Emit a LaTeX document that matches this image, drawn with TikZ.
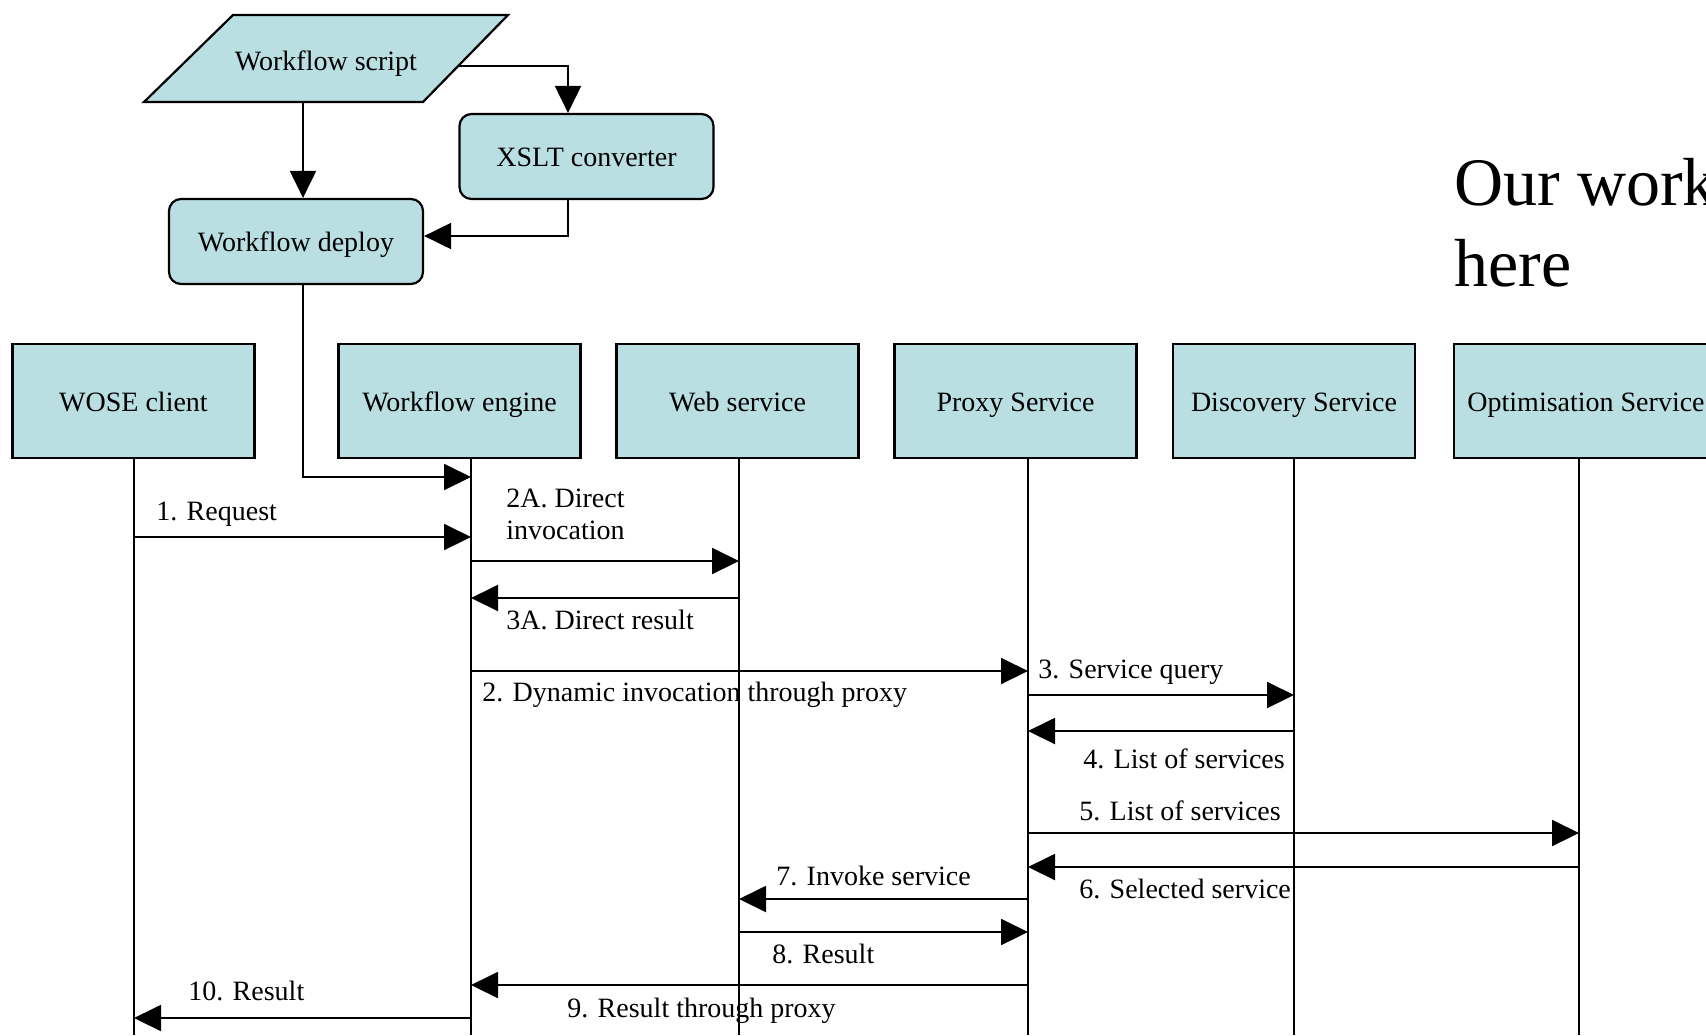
\documentclass[tikz,border=0pt]{standalone}
\usepackage{fontspec}
\setmainfont{Liberation Serif}
\usetikzlibrary{arrows.meta}
\definecolor{boxfill}{RGB}{186,223,226}
\begin{document}
\begin{tikzpicture}[x=0.5pt,y=-0.5pt,
  lbox/.style={draw, line width=1.1pt, fill=boxfill, minimum width=121pt, minimum height=57pt, inner sep=0pt, text height=13pt, text depth=3pt, font=\fontsize{14}{16}\selectfont},
  rbox/.style={lbox, rounded corners=6pt, minimum width=127pt, minimum height=42.5pt},
  msg/.style={line width=1pt, -{Triangle[length=13.5pt,width=13pt]}},
  life/.style={line width=0.8pt},
  lbl/.style={inner sep=0pt, anchor=base west, font=\fontsize{14}{16}\selectfont}]
\useasboundingbox (0,0) rectangle (1706,1035);

% top flow part: parallelogram drawn directly, text node on it
\draw[line width=1.1pt, fill=boxfill] (233,15) -- (508,15) -- (423,102) -- (144,102) -- cycle;
\node[inner sep=0pt, text height=13pt, text depth=3pt, font=\fontsize{14}{16}\selectfont] (ws) at (326,60) {Workflow script};
\coordinate (wsR) at (458,66);
\coordinate (wsB) at (303,102);
\node[rbox] (xslt) at (586.5,156.5) {XSLT converter};
\node[rbox] (deploy) at (296,241.5) {Workflow deploy};

% lifeline boxes
\node[lbox] (wose) at (133.5,401) {WOSE client};
\node[lbox] (eng) at (459.5,401) {Workflow engine};
\node[lbox] (web) at (737.5,401) {Web service};
\node[lbox] (proxy) at (1015.5,401) {Proxy Service};
\node[lbox] (disc) at (1294,401) {Discovery Service};
\node[lbox, minimum width=132pt] (opt) at (1586,401) {Optimisation Service};

% big text
\node[inner sep=0pt, anchor=north west, align=left, font=\fontsize{34}{40.5}\selectfont] (our) at (1454,158) {Our work\\here};

% lifeline coordinates
\coordinate (Lw) at (134,458);  \coordinate (Bw) at (134,1035);
\coordinate (Le) at (471,458);  \coordinate (Be) at (471,1035);
\coordinate (Lws) at (739,458); \coordinate (Bws) at (739,1035);
\coordinate (Lp) at (1028,458); \coordinate (Bp) at (1028,1035);
\coordinate (Ld) at (1294,458); \coordinate (Bd) at (1294,1035);
\coordinate (Lo) at (1579,458); \coordinate (Bo) at (1579,1035);

\foreach \a/\b in {Lw/Bw, Le/Be, Lws/Bws, Lp/Bp, Ld/Bd, Lo/Bo}
  \draw[life] (\a) -- (\b);

% flow connectors
\draw[msg] (wsR) -| ([xshift=-9.25pt]xslt.north);
\draw[msg] (wsB) -- ([xshift=3.5pt]deploy.north);
\draw[msg] ([xshift=-9.25pt]xslt.south) |- ([yshift=2.75pt]deploy.east);
\draw[msg] ([xshift=3.5pt]deploy.south) |- (Le |- 0,477);

% messages
\draw[msg] (Lw |- 0,537) -- (Le |- 0,537);
\draw[msg] (Le |- 0,561) -- (Lws |- 0,561);
\draw[msg] (Lws |- 0,598) -- (Le |- 0,598);
\draw[msg] (Le |- 0,671) -- (Lp |- 0,671);
\draw[msg] (Lp |- 0,695) -- (Ld |- 0,695);
\draw[msg] (Ld |- 0,731) -- (Lp |- 0,731);
\draw[msg] (Lp |- 0,833) -- (Lo |- 0,833);
\draw[msg] (Lo |- 0,867) -- (Lp |- 0,867);
\draw[msg] (Lp |- 0,899) -- (Lws |- 0,899);
\draw[msg] (Lws |- 0,932) -- (Lp |- 0,932);
\draw[msg] (Lp |- 0,985) -- (Le |- 0,985);
\draw[msg] (Le |- 0,1018) -- (Lw |- 0,1018);

% labels
\node[lbl] (l1) at (156,520) {1. Request};
\node[inner sep=0pt, anchor=north west, align=left, font=\fontsize{14}{16}\selectfont] (l2a) at (506,489) {2A. Direct\\invocation};
\node[lbl] (l3a) at (506,629) {3A. Direct result};
\node[lbl] (l2) at (482,701) {2. Dynamic invocation through proxy};
\node[lbl] (l3) at (1038,678) {3. Service query};
\node[lbl] (l4) at (1083,768) {4. List of services};
\node[lbl] (l5) at (1079,820) {5. List of services};
\node[lbl] (l6) at (1079,898) {6. Selected service};
\node[lbl] (l7) at (776,885) {7. Invoke service};
\node[lbl] (l8) at (772,963) {8. Result};
\node[lbl] (l9) at (567,1017) {9. Result through proxy};
\node[lbl] (l10) at (188,1000) {10. Result};
\end{tikzpicture}
\end{document}
